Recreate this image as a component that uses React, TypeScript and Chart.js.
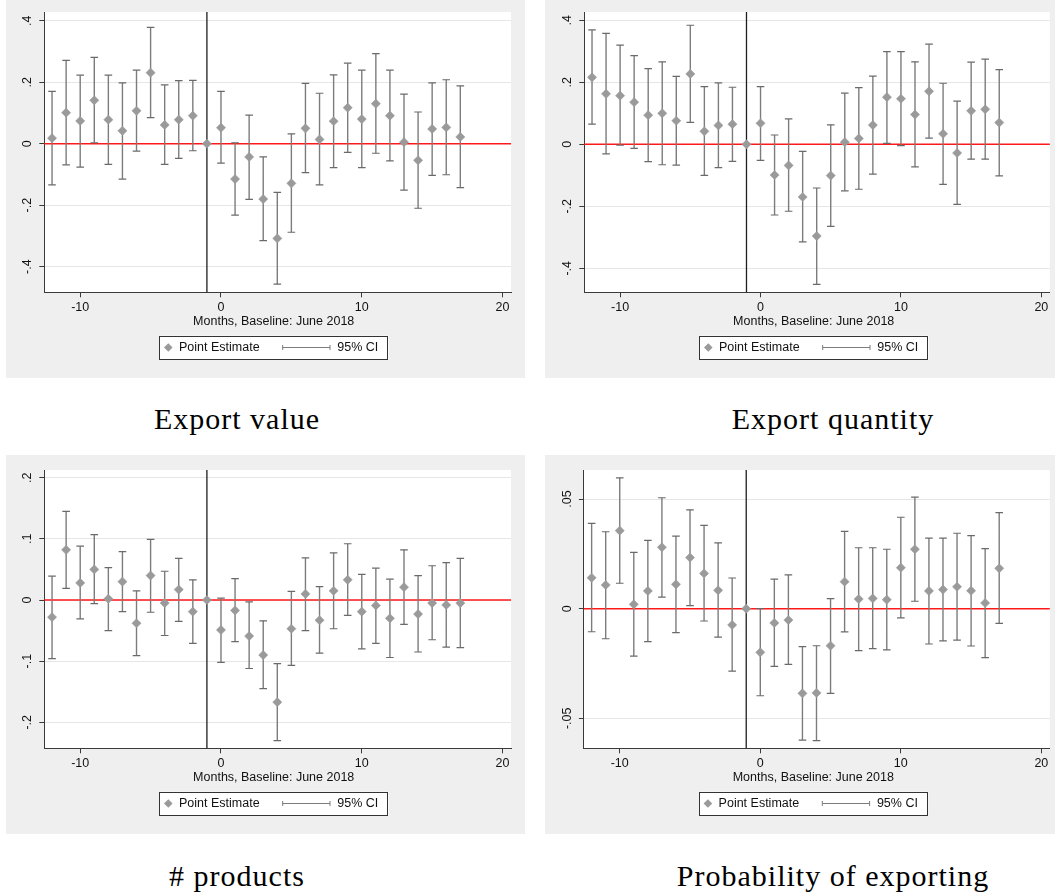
import React, { useEffect, useRef } from "react";
import { Chart, registerables } from "chart.js";

Chart.register(...registerables);

// ---------- data ----------
const months = [-12, -11, -10, -9, -8, -7, -6, -5, -4, -3, -2, -1, 0, 1, 2, 3, 4, 5, 6, 7, 8, 9, 10, 11, 12, 13, 14, 15, 16, 17];
const eventMonth = -1;

const xTicks = [-10, 0, 10, 20];
const xTickLabels = ["-10", "0", "10", "20"];
const xTitle = "Months, Baseline: June 2018";
const legendPoint = "Point Estimate";
const legendCI = "95% CI";

// Export value
const valueEst = [0.018, 0.101, 0.074, 0.141, 0.078, 0.042, 0.107, 0.231, 0.061, 0.078, 0.091, 0, 0.052, -0.115, -0.043, -0.18, -0.308, -0.129, 0.05, 0.014, 0.073, 0.117, 0.08, 0.13, 0.091, 0.005, -0.054, 0.048, 0.053, 0.022];
const valueLo = [-0.134, -0.069, -0.076, 0.003, -0.067, -0.115, -0.024, 0.085, -0.067, -0.048, -0.023, null, -0.063, -0.232, -0.181, -0.315, -0.457, -0.288, -0.094, -0.134, -0.078, -0.028, -0.078, -0.031, -0.056, -0.151, -0.21, -0.103, -0.101, -0.143];
const valueHi = [0.17, 0.271, 0.223, 0.281, 0.223, 0.198, 0.239, 0.378, 0.191, 0.205, 0.206, null, 0.17, 0.003, 0.093, -0.043, -0.158, 0.032, 0.196, 0.164, 0.224, 0.262, 0.239, 0.293, 0.239, 0.161, 0.103, 0.198, 0.208, 0.188];

// Export quantity
const qtyEst = [0.216, 0.163, 0.157, 0.136, 0.094, 0.1, 0.076, 0.227, 0.042, 0.061, 0.065, 0, 0.068, -0.099, -0.068, -0.17, -0.296, -0.101, 0.007, 0.019, 0.062, 0.152, 0.147, 0.096, 0.171, 0.034, -0.028, 0.108, 0.113, 0.07];
const qtyLo = [0.065, -0.031, -0.003, -0.013, -0.056, -0.066, -0.067, 0.071, -0.1, -0.075, -0.055, null, -0.052, -0.228, -0.216, -0.315, -0.452, -0.265, -0.15, -0.145, -0.096, 0.003, -0.004, -0.073, 0.02, -0.129, -0.194, -0.048, -0.048, -0.102];
const qtyHi = [0.369, 0.358, 0.32, 0.286, 0.244, 0.266, 0.219, 0.384, 0.186, 0.198, 0.184, null, 0.186, 0.03, 0.082, -0.023, -0.141, 0.063, 0.165, 0.183, 0.22, 0.299, 0.299, 0.266, 0.323, 0.197, 0.139, 0.265, 0.275, 0.241];

// # products
const prodEst = [-0.028, 0.082, 0.028, 0.05, 0.002, 0.03, -0.038, 0.04, -0.005, 0.017, -0.019, 0, -0.049, -0.017, -0.059, -0.09, -0.167, -0.047, 0.01, -0.033, 0.015, 0.033, -0.019, -0.009, -0.03, 0.021, -0.023, -0.005, -0.008, -0.005];
const prodLo = [-0.096, 0.019, -0.031, -0.006, -0.05, -0.019, -0.091, -0.02, -0.058, -0.035, -0.071, null, -0.102, -0.068, -0.112, -0.145, -0.23, -0.107, -0.05, -0.087, -0.047, -0.025, -0.08, -0.071, -0.094, -0.04, -0.085, -0.065, -0.077, -0.078];
const prodHi = [0.039, 0.145, 0.088, 0.107, 0.053, 0.079, 0.015, 0.099, 0.047, 0.068, 0.033, null, 0.003, 0.035, -0.003, -0.034, -0.104, 0.014, 0.069, 0.022, 0.077, 0.092, 0.042, 0.052, 0.034, 0.082, 0.04, 0.056, 0.061, 0.068];

// Probability of exporting
const probEst = [0.0141, 0.0108, 0.0356, 0.002, 0.0081, 0.028, 0.0111, 0.0233, 0.0161, 0.0084, -0.0074, 0, -0.0199, -0.0065, -0.0052, -0.0386, -0.0384, -0.0169, 0.0123, 0.0044, 0.0047, 0.0041, 0.0187, 0.0271, 0.0081, 0.0087, 0.01, 0.0082, 0.0026, 0.0184];
const probLo = [-0.0105, -0.0137, 0.0116, -0.0216, -0.015, 0.0053, -0.0109, 0.0014, -0.0056, -0.013, -0.0285, null, -0.0397, -0.0263, -0.0254, -0.0599, -0.0602, -0.0386, -0.0106, -0.0191, -0.0182, -0.0188, -0.0042, 0.0034, -0.0161, -0.0147, -0.0143, -0.017, -0.0223, -0.0067];
const probHi = [0.0389, 0.0351, 0.0597, 0.0257, 0.0312, 0.0506, 0.0331, 0.0451, 0.038, 0.03, 0.014, null, 0.0, 0.0135, 0.0154, -0.0173, -0.0169, 0.0046, 0.0353, 0.0278, 0.0278, 0.0271, 0.0417, 0.0509, 0.0322, 0.0322, 0.0344, 0.0333, 0.0274, 0.0438];

const yTicksBig = [-0.4, -0.2, 0, 0.2, 0.4];
const yLabelsBig = ["-.4", "-.2", "0", ".2", ".4"];
const yTicksProd = [-0.2, -0.1, 0, 0.1, 0.2];
const yLabelsProd = ["-.2", "-.1", "0", ".1", ".2"];
const yTicksProb = [-0.05, 0, 0.05];
const yLabelsProb = ["-.05", "0", ".05"];

const captions = ["Export value", "Export quantity", "# products", "Probability of exporting"];

// ---------- styling ----------
const SANS = "'Liberation Sans', Arial, sans-serif";
const FONT_SIZE = 12.5;
const GREY_BG = "#efefef";
const MARKER = "#9a9a9a";
const CI_COLOR = "#7c7c7c";
const AXIS = "#3a3a3a";

type PanelCfg = {
  left: number; top: number; w: number; h: number;
  area: { l: number; t: number; r: number; b: number };
  yMin: number; yMax: number;
  yTicks: number[]; yLabels: string[];
  est: number[]; lo: (number | null)[]; hi: (number | null)[];
};

const panels: PanelCfg[] = [
  { left: 6, top: 0, w: 519, h: 378, area: { l: 38.3, t: 12, r: 505, b: 292.3 }, yMin: -0.4833, yMax: 0.4283, yTicks: yTicksBig, yLabels: yLabelsBig, est: valueEst, lo: valueLo, hi: valueHi },
  { left: 545, top: 0, w: 510, h: 378, area: { l: 39.3, t: 12, r: 505.7, b: 292.3 }, yMin: -0.4774, yMax: 0.4268, yTicks: yTicksBig, yLabels: yLabelsBig, est: qtyEst, lo: qtyLo, hi: qtyHi },
  { left: 6, top: 455, w: 519, h: 379, area: { l: 38.3, t: 15, r: 505, b: 293.3 }, yMin: -0.2425, yMax: 0.2126, yTicks: yTicksProd, yLabels: yLabelsProd, est: prodEst, lo: prodLo, hi: prodHi },
  { left: 545, top: 455, w: 510, h: 379, area: { l: 38.9, t: 15, r: 505.7, b: 293.3 }, yMin: -0.06366, yMax: 0.06325, yTicks: yTicksProb, yLabels: yLabelsProb, est: probEst, lo: probLo, hi: probHi },
];

const decorPlugin = {
  id: "decor",
  beforeDraw(chart: any) {
    const { ctx, chartArea: a, width, height } = chart;
    ctx.save();
    ctx.fillStyle = GREY_BG;
    ctx.fillRect(0, 0, width, height);
    ctx.fillStyle = "#ffffff";
    ctx.fillRect(a.left, a.top, a.right - a.left, a.bottom - a.top);
    ctx.restore();
  },
  beforeDatasetsDraw(chart: any) {
    const { ctx, chartArea: a, scales } = chart;
    const y0 = scales.y.getPixelForValue(0);
    const xv = scales.x.getPixelForValue(eventMonth);
    ctx.save();
    ctx.strokeStyle = "#ff1a1a";
    ctx.lineWidth = 1.5;
    ctx.beginPath();
    ctx.moveTo(a.left, y0);
    ctx.lineTo(a.right, y0);
    ctx.stroke();
    ctx.strokeStyle = "#1e1e1e";
    ctx.lineWidth = 1.3;
    ctx.beginPath();
    ctx.moveTo(xv, a.top);
    ctx.lineTo(xv, a.bottom);
    ctx.stroke();
    ctx.restore();
  },
  afterDraw(chart: any, _args: any, opts: any) {
    const { ctx, chartArea: a, scales } = chart;
    ctx.save();
    ctx.fillStyle = "#111";
    ctx.font = `${FONT_SIZE}px ${SANS}`;
    // rotated y tick labels
    (opts.yTicks as number[]).forEach((v, i) => {
      const py = scales.y.getPixelForValue(v);
      ctx.save();
      ctx.translate(a.left - 16.3, py);
      ctx.rotate(-Math.PI / 2);
      ctx.textAlign = "center";
      ctx.textBaseline = "middle";
      ctx.fillText(opts.yLabels[i], 0, 0);
      ctx.restore();
    });
    // x title
    ctx.textAlign = "center";
    ctx.textBaseline = "middle";
    ctx.fillText(xTitle, a.left + 229.4, a.bottom + 29.5);
    // legend
    const lx = a.left + 115;
    const ly = a.bottom + 43.4;
    const lw = 229.4;
    const lh = 23.6;
    ctx.fillStyle = "#ffffff";
    ctx.fillRect(lx, ly, lw, lh);
    ctx.strokeStyle = "#333";
    ctx.lineWidth = 1;
    ctx.strokeRect(Math.round(lx) + 0.5, Math.round(ly) + 0.5, Math.round(lw) - 1, Math.round(lh) - 1);
    const cy = ly + lh / 2;
    ctx.fillStyle = MARKER;
    ctx.beginPath();
    const dx = lx + 9, r = 4.3;
    ctx.moveTo(dx - r, cy);
    ctx.lineTo(dx, cy - r);
    ctx.lineTo(dx + r, cy);
    ctx.lineTo(dx, cy + r);
    ctx.closePath();
    ctx.fill();
    ctx.fillStyle = "#111";
    ctx.textAlign = "left";
    ctx.fillText(legendPoint, lx + 19.7, cy);
    ctx.strokeStyle = CI_COLOR;
    ctx.lineWidth = 1;
    ctx.beginPath();
    ctx.moveTo(lx + 123.4, cy);
    ctx.lineTo(lx + 170.7, cy);
    ctx.moveTo(lx + 123.4, cy - 2.5);
    ctx.lineTo(lx + 123.4, cy + 2.5);
    ctx.moveTo(lx + 170.7, cy - 2.5);
    ctx.lineTo(lx + 170.7, cy + 2.5);
    ctx.stroke();
    ctx.fillText(legendCI, lx + 178, cy);
    ctx.restore();
  },
};

function Panel({ cfg }: { cfg: PanelCfg }) {
  const ref = useRef<HTMLCanvasElement>(null);
  useEffect(() => {
    const canvas = ref.current!;
    const whiskers: any[] = [];
    const caps: any[] = [];
    months.forEach((m, i) => {
      if (cfg.lo[i] === null || cfg.hi[i] === null) return;
      whiskers.push({ x: m, y: cfg.lo[i] }, { x: m, y: cfg.hi[i] }, { x: m, y: null });
      caps.push({ x: m, y: cfg.lo[i] }, { x: m, y: cfg.hi[i] });
    });
    const points = months.map((m, i) => ({ x: m, y: cfg.est[i] }));
    const a = cfg.area;
    const chart = new Chart(canvas, {
      type: "scatter",
      data: {
        datasets: [
          {
            label: legendPoint,
            data: points,
            pointStyle: "rectRot",
            pointRadius: 4.6,
            pointBackgroundColor: MARKER,
            pointBorderColor: MARKER,
            pointBorderWidth: 0.5,
            showLine: false,
            order: 0,
          },
          {
            label: legendCI,
            data: whiskers,
            showLine: true,
            spanGaps: false,
            borderColor: CI_COLOR,
            borderWidth: 1.4,
            pointRadius: 0,
            order: 2,
          },
          {
            label: "caps",
            data: caps,
            showLine: false,
            pointStyle: "line",
            pointRadius: 3.8,
            pointBorderColor: "#6a6a6a",
            pointBorderWidth: 1.2,
            order: 1,
          },
        ] as any,
      },
      options: {
        animation: false,
        responsive: false,
        events: [],
        layout: { padding: { left: 0, top: a.t, right: cfg.w - a.r, bottom: 0 } },
        plugins: {
          legend: { display: false },
          tooltip: { enabled: false },
          decor: { yTicks: cfg.yTicks, yLabels: cfg.yLabels },
        } as any,
        scales: {
          x: {
            type: "linear",
            min: -12.55,
            max: 20.6,
            afterBuildTicks: (s: any) => {
              s.ticks = xTicks.map((v) => ({ value: v }));
            },
            afterFit: (s: any) => {
              s.height = cfg.h - a.b;
            },
            grid: { drawOnChartArea: false, drawTicks: true, tickLength: 5, tickColor: AXIS, tickWidth: 1 },
            border: { display: true, color: AXIS, width: 1 },
            ticks: {
              autoSkip: false,
              maxRotation: 0,
              minRotation: 0,
              padding: 3,
              color: "#111",
              font: { family: SANS, size: FONT_SIZE },
              callback: (v: any) => {
                const idx = xTicks.indexOf(Number(v));
                return idx >= 0 ? xTickLabels[idx] : "";
              },
            },
          },
          y: {
            type: "linear",
            min: cfg.yMin,
            max: cfg.yMax,
            afterBuildTicks: (s: any) => {
              s.ticks = cfg.yTicks.map((v) => ({ value: v }));
            },
            afterFit: (s: any) => {
              s.width = a.l;
            },
            grid: { color: "#e6e6e6", lineWidth: 1, drawTicks: true, tickLength: 5, tickColor: AXIS, tickWidth: 1 },
            border: { display: true, color: AXIS, width: 1 },
            ticks: { display: false },
          },
        },
      } as any,
      plugins: [decorPlugin as any],
    });
    return () => chart.destroy();
  }, []);
  return (
    <div style={{ position: "absolute", left: cfg.left, top: cfg.top, width: cfg.w, height: cfg.h, background: GREY_BG }}>
      <canvas ref={ref} width={cfg.w} height={cfg.h} style={{ display: "block", width: cfg.w, height: cfg.h }} />
    </div>
  );
}

const captionStyle = (cx: number, top: number): React.CSSProperties => ({
  position: "absolute",
  left: cx - 260,
  top,
  width: 520,
  textAlign: "center",
  fontFamily: "'Liberation Serif', 'Times New Roman', serif",
  fontSize: 30,
  lineHeight: "30px",
  letterSpacing: "1px",
  color: "#000",
  whiteSpace: "nowrap",
});

export default function App() {
  return (
    <div style={{ position: "absolute", left: 0, top: 0, width: 1055, height: 894, background: "#fff", overflow: "hidden" }}>
      {panels.map((p, i) => (
        <Panel key={i} cfg={p} />
      ))}
      <div style={captionStyle(237, 404)}>{captions[0]}</div>
      <div style={captionStyle(833, 404)}>{captions[1]}</div>
      <div style={captionStyle(237, 861)}>{captions[2]}</div>
      <div style={captionStyle(833, 861)}>{captions[3]}</div>
    </div>
  );
}
